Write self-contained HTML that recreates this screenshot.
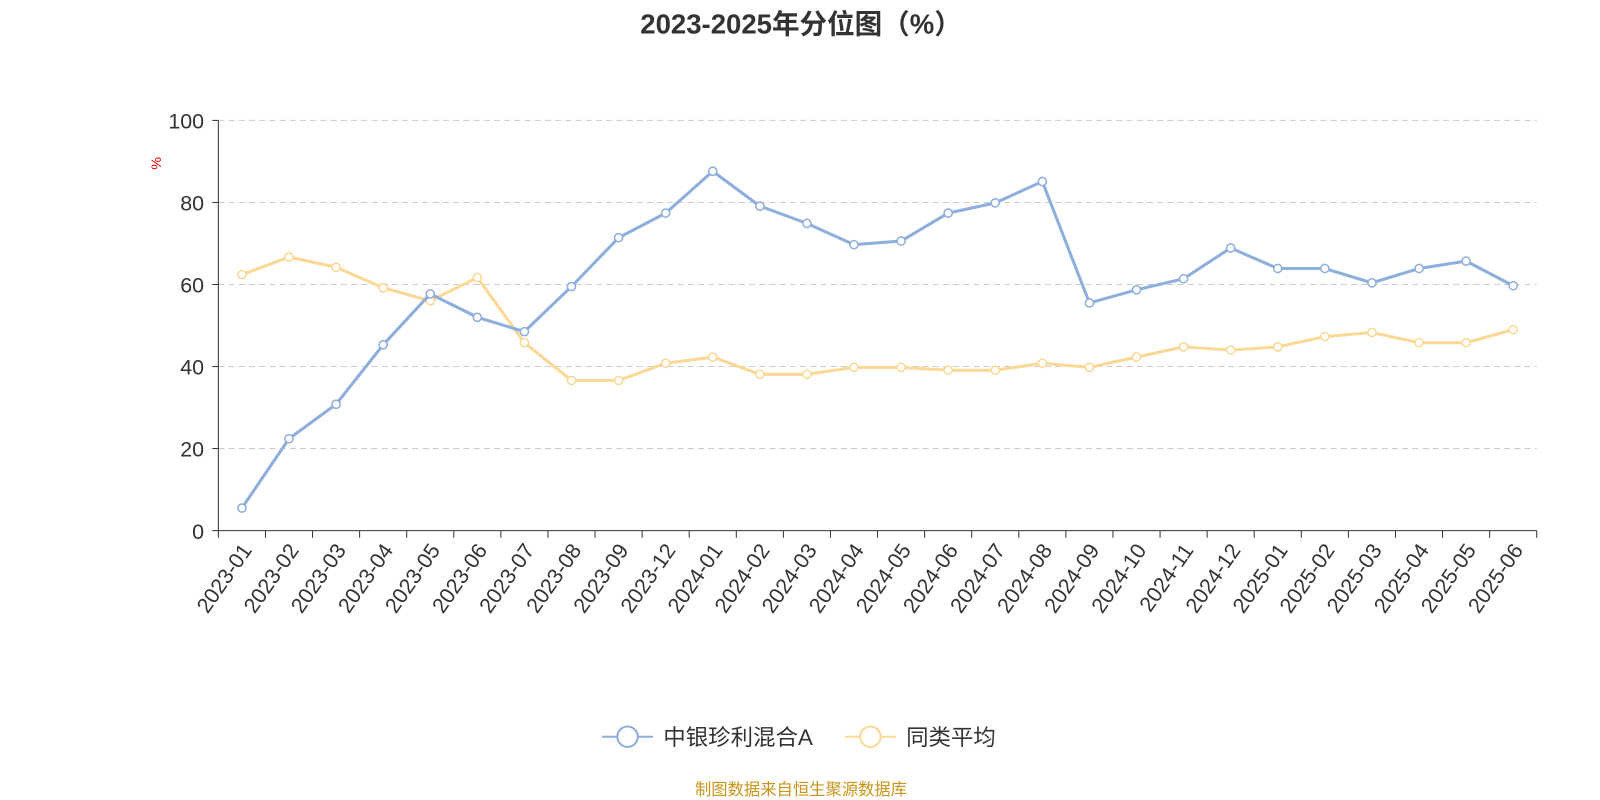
<!DOCTYPE html>
<html><head><meta charset="utf-8">
<style>
body{margin:0;background:#fff;}
svg{display:block;font-family:"Liberation Sans","Noto Sans CJK SC",sans-serif;}
</style></head>
<body>
<svg id="chart" width="1600" height="800" viewBox="0 0 1568 784">
<text x="785" y="33" text-anchor="middle" font-size="27" font-weight="bold" fill="#333">2023-2025年分位图（%）</text>
<text x="0" y="0" transform="translate(158,160) rotate(-90)" text-anchor="middle" font-size="14" fill="#e00">%</text>
<g id="grid"></g><g id="axes"></g><g id="series"></g>
<g>
<g>
<line x1="590" y1="722" x2="640" y2="722" stroke="#8eaedb" stroke-width="2"/>
<circle cx="615" cy="722" r="10" fill="#fff" stroke="#8eaedb" stroke-width="2"/>
<text x="650" y="730" font-size="22" fill="#333">中银珍利混合A</text></g>
<g>
<line x1="828" y1="722" x2="878" y2="722" stroke="#fcd896" stroke-width="2"/>
<circle cx="853" cy="722" r="10" fill="#fff" stroke="#fcd896" stroke-width="2"/>
<text x="888" y="730" font-size="22" fill="#333">同类平均</text></g>
</g>
<text x="785" y="779" text-anchor="middle" font-size="16" fill="#c8941c">制图数据来自恒生聚源数据库</text>
</svg>
<script>
const categories=["2023-01","2023-02","2023-03","2023-04","2023-05","2023-06","2023-07","2023-08","2023-09","2023-12","2024-01","2024-02","2024-03","2024-04","2024-05","2024-06","2024-07","2024-08","2024-09","2024-10","2024-11","2024-12","2025-01","2025-02","2025-03","2025-04","2025-05","2025-06"];
const fundValues=[5.5,22.4,30.8,45.3,57.7,52,48.5,59.5,71.4,77.4,87.6,79.1,74.9,69.7,70.6,77.4,79.9,85.1,55.5,58.7,61.4,68.9,63.9,63.9,60.4,63.9,65.7,59.7];
const avgValues=[62.4,66.7,64.2,59.2,56,61.7,45.8,36.6,36.6,40.8,42.3,38.1,38.1,39.8,39.8,39.1,39.1,40.8,39.8,42.3,44.8,44,44.8,47.3,48.3,45.8,45.8,49];
const yTicks=[0,20,40,60,80,100];
const NS="http://www.w3.org/2000/svg";
const X0=214,X1=1506,Y0=520,Y1=118;
const bw=(X1-X0)/categories.length;
const xs=i=>X0+bw*(i+0.5);
const ys=v=>Y0-(v/100)*(Y0-Y1);
function mk(tag,attrs,parent){const e=document.createElementNS(NS,tag);for(const k in attrs)e.setAttribute(k,attrs[k]);parent.appendChild(e);return e;}
const grid=document.getElementById('grid'),axes=document.getElementById('axes'),series=document.getElementById('series');
yTicks.forEach(t=>{
 if(t>0){const g=mk('line',{x1:X0,x2:X1,y1:ys(t),y2:ys(t),stroke:'#ccc','stroke-dasharray':'6,4'},grid);
 
 }
 const l=mk('text',{x:X0-14,y:ys(t)+8,'text-anchor':'end','font-size':'21',fill:'#333'},axes);l.textContent=t;
 
 
 const tk=mk('line',{x1:X0-6,x2:X0,y1:ys(t),y2:ys(t),stroke:'#333'},axes);
 
 
});
const ya=mk('line',{x1:X0,x2:X0,y1:Y1,y2:Y0,stroke:'#333'},axes);


const xa=mk('line',{x1:X0,x2:X1,y1:Y0,y2:Y0,stroke:'#333'},axes);


for(let i=0;i<=categories.length;i++){
 const tk=mk('line',{x1:X0+bw*i,x2:X0+bw*i,y1:Y0,y2:Y0+7,stroke:'#333'},axes);
 
 
}
categories.forEach((c,i)=>{
 const x=xs(i)+6,y=Y0+16;
 const t=mk('text',{x:x,y:y,transform:`rotate(-55 ${x} ${y})`,'text-anchor':'end','font-size':'21',fill:'#333','dominant-baseline':'middle'},axes);
 t.textContent=c;
 
 
});
function drawSeries(vals,color,name){
 const p=mk('polyline',{points:vals.map((v,i)=>xs(i)+','+ys(v)).join(' '),fill:'none',stroke:color,'stroke-width':'3'},series);
 
 
 vals.forEach((v,i)=>{
  const c=mk('circle',{cx:xs(i),cy:ys(v),r:4,fill:'#fff',stroke:color,'stroke-width':'1.5'},series);
  
  
 });
}
drawSeries(avgValues,'#fcd896','average');
drawSeries(fundValues,'#8eaedb','fund');
</script>
</body></html>
